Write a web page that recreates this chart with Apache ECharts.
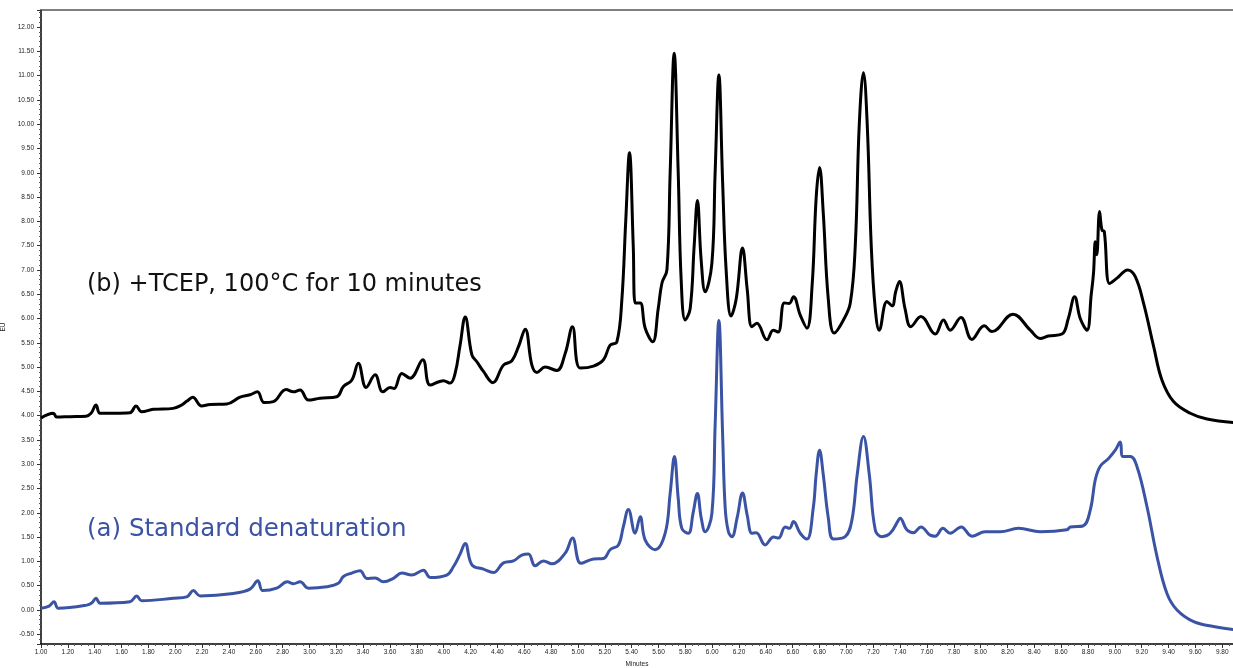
<!DOCTYPE html>
<html>
<head>
<meta charset="utf-8">
<script src="https://cdn.jsdelivr.net/npm/echarts@6/dist/echarts.min.js"></script>
<style>html,body{margin:0;padding:0;background:#fff;}#c{width:1233px;height:668px;}</style>
</head>
<body>
<div id="c"></div>
<script>
// (b) +TCEP, 100°C for 10 minutes  (black trace)
const timeB = [1.000,1.092,1.117,1.216,1.335,1.373,1.410,1.440,1.551,1.663,1.708,1.750,1.837,1.984,2.036,2.088,2.130,2.197,2.259,2.384,2.483,2.557,2.612,2.662,2.731,2.826,2.880,2.930,2.992,3.079,3.203,3.253,3.315,3.364,3.422,3.489,3.546,3.601,3.631,3.688,3.750,3.844,3.899,3.998,4.048,4.085,4.122,4.160,4.210,4.247,4.296,4.366,4.445,4.508,4.557,4.607,4.657,4.694,4.756,4.843,4.905,4.959,5.016,5.116,5.190,5.240,5.290,5.327,5.356,5.384,5.412,5.427,5.464,5.501,5.557,5.598,5.626,5.663,5.687,5.717,5.747,5.769,5.799,5.836,5.866,5.890,5.918,5.948,5.998,6.022,6.050,6.078,6.104,6.141,6.179,6.226,6.261,6.296,6.333,6.408,6.455,6.492,6.537,6.574,6.606,6.656,6.706,6.745,6.775,6.800,6.827,6.865,6.909,6.976,7.029,7.066,7.096,7.127,7.155,7.185,7.215,7.245,7.302,7.341,7.367,7.395,7.437,7.480,7.555,7.662,7.723,7.773,7.853,7.935,8.027,8.084,8.241,8.370,8.444,8.504,8.606,8.653,8.700,8.742,8.792,8.824,8.841,8.854,8.865,8.886,8.904,8.921,8.961,9.016,9.095,9.152,9.214,9.289,9.351,9.437,9.562,9.686,9.882];
const signalB = [3.95,4.05,3.97,3.98,3.99,4.05,4.22,4.05,4.05,4.06,4.20,4.08,4.13,4.15,4.20,4.30,4.38,4.20,4.23,4.24,4.38,4.43,4.49,4.27,4.29,4.54,4.49,4.53,4.32,4.36,4.39,4.60,4.73,5.08,4.58,4.84,4.49,4.58,4.56,4.87,4.77,5.15,4.63,4.72,4.67,4.87,5.45,6.03,5.25,5.11,4.91,4.68,5.04,5.13,5.42,5.78,5.04,4.89,5.00,4.93,5.28,5.83,4.98,5.02,5.15,5.45,5.52,6.38,8.00,9.41,7.50,6.32,6.32,5.80,5.52,6.20,6.73,7.00,9.00,11.46,9.00,6.80,5.97,6.20,7.50,8.43,7.20,6.55,7.14,9.00,11.01,8.80,7.00,6.05,6.40,7.45,6.60,5.83,5.90,5.56,5.76,5.72,6.32,6.31,6.45,6.07,5.80,6.70,8.50,9.11,8.20,6.40,5.70,5.96,6.32,7.50,10.00,11.06,10.00,7.50,6.20,5.76,6.35,6.26,6.55,6.76,6.20,5.83,6.04,5.68,5.97,5.76,6.02,5.57,5.85,5.73,6.09,5.76,5.59,5.64,5.68,6.00,6.45,6.00,5.76,6.50,6.94,7.58,7.31,8.20,7.82,7.79,6.72,6.83,7.00,6.86,6.31,5.42,4.73,4.29,4.05,3.93,3.86];

// (a) Standard denaturation  (blue trace)
const timeA = [1.000,1.060,1.097,1.129,1.341,1.380,1.410,1.440,1.663,1.713,1.750,1.986,2.086,2.135,2.185,2.433,2.557,2.615,2.652,2.756,2.835,2.880,2.930,2.992,3.129,3.215,3.253,3.315,3.377,3.427,3.489,3.551,3.625,3.688,3.762,3.849,3.899,4.023,4.072,4.122,4.160,4.210,4.296,4.370,4.445,4.519,4.582,4.631,4.681,4.743,4.806,4.905,4.959,5.022,5.116,5.190,5.240,5.302,5.337,5.376,5.426,5.464,5.501,5.575,5.650,5.687,5.719,5.747,5.774,5.823,5.858,5.890,5.918,5.948,5.998,6.022,6.050,6.078,6.097,6.121,6.147,6.186,6.226,6.261,6.296,6.328,6.395,6.457,6.494,6.544,6.576,6.606,6.656,6.706,6.753,6.775,6.800,6.827,6.865,6.904,6.991,7.041,7.081,7.127,7.170,7.215,7.264,7.326,7.388,7.400,7.450,7.500,7.555,7.624,7.662,7.719,7.773,7.855,7.935,8.034,8.146,8.282,8.444,8.643,8.668,8.762,8.817,8.854,8.891,8.953,9.003,9.040,9.060,9.115,9.165,9.239,9.314,9.388,9.463,9.587,9.735,9.882];
const signalA = [0.035,0.08,0.17,0.035,0.10,0.15,0.24,0.14,0.17,0.29,0.19,0.24,0.27,0.40,0.29,0.34,0.43,0.60,0.40,0.45,0.58,0.54,0.58,0.45,0.48,0.55,0.69,0.76,0.81,0.65,0.66,0.58,0.65,0.76,0.72,0.82,0.67,0.72,0.89,1.15,1.37,0.93,0.84,0.77,0.97,1.01,1.13,1.15,0.91,1.01,0.95,1.17,1.48,0.96,1.05,1.06,1.24,1.34,1.70,2.07,1.58,1.92,1.44,1.24,1.58,2.40,3.16,2.30,1.68,1.58,2.00,2.40,1.90,1.61,1.99,3.80,5.96,3.60,2.10,1.61,1.51,1.90,2.41,1.95,1.58,1.59,1.34,1.50,1.48,1.71,1.68,1.82,1.58,1.46,2.10,2.80,3.29,2.80,1.90,1.46,1.51,1.85,2.80,3.57,2.80,1.65,1.51,1.58,1.85,1.89,1.65,1.59,1.71,1.54,1.52,1.68,1.58,1.71,1.52,1.61,1.61,1.68,1.61,1.65,1.71,1.73,2.06,2.68,2.96,3.12,3.29,3.46,3.16,3.16,2.95,2.13,1.10,0.34,0.00,-0.24,-0.34,-0.40];

const labelB = '(b) +TCEP, 100°C for 10 minutes';
const labelA = '(a) Standard denaturation';

const dataB = timeB.map((t, i) => [t, signalB[i]]);
const dataA = timeA.map((t, i) => [t, signalA[i]]);

const chart = echarts.init(document.getElementById('c'), null, {renderer: 'canvas'});
const tickFont = {fontFamily: 'Liberation Sans', fontSize: 6.5, color: '#222'};
chart.setOption({
  animation: false,
  backgroundColor: '#fff',
  grid: {left: 41, right: 0, top: 10, bottom: 24, containLabel: false, outerBoundsMode: 'none'},
  xAxis: [{
    type: 'value', min: 1, max: 9.88, interval: 0.2,
    name: 'Minutes', nameLocation: 'middle', nameGap: 17,
    nameTextStyle: {fontFamily: 'Liberation Sans', fontSize: 6.5, color: '#222'},
    axisLine: {show: true, onZero: false, lineStyle: {color: '#000', width: 1.5}},
    axisTick: {show: true, inside: false, length: 4, lineStyle: {color: '#333'}},
    minorTick: {show: true, splitNumber: 4, length: 2, lineStyle: {color: '#555'}},
    axisLabel: Object.assign({margin: 5, showMaxLabel: false, formatter: v => v.toFixed(2)}, tickFont),
    splitLine: {show: false}
  }, {
    type: 'value', min: 1, max: 9.88, position: 'top',
    axisLine: {show: true, onZero: false, lineStyle: {color: '#555', width: 1.5}},
    axisTick: {show: false}, axisLabel: {show: false}, splitLine: {show: false}
  }],
  yAxis: {
    type: 'value', min: -0.7, max: 12.35, splitNumber: 26, minInterval: 0.5, maxInterval: 0.5,
    name: 'EU', nameLocation: 'middle', nameGap: 31, nameRotate: 90,
    nameTextStyle: {fontFamily: 'Liberation Sans', fontSize: 6.5, color: '#222'},
    axisLine: {show: true, onZero: false, lineStyle: {color: '#000', width: 1.5}},
    axisTick: {show: true, inside: false, length: 4, lineStyle: {color: '#333'}},
    minorTick: {show: true, splitNumber: 5, length: 2, lineStyle: {color: '#555'}},
    axisLabel: Object.assign({margin: 7, showMinLabel: false, showMaxLabel: false, formatter: v => v.toFixed(2)}, tickFont),
    splitLine: {show: false}
  },
  series: [{
    type: 'line', data: dataA, showSymbol: false, smooth: 0.4,
    lineStyle: {color: '#3a53a5', width: 3}, itemStyle: {color: '#3a53a5'}, z: 2
  }, {
    type: 'line', data: dataB, showSymbol: false, smooth: 0.4,
    lineStyle: {color: '#000', width: 3}, itemStyle: {color: '#000'}, z: 3
  }],
  graphic: [{
    type: 'text', x: 87, y: 285,
    style: {text: labelB, fontFamily: 'DejaVu Sans', fontSize: 24, fill: '#111', verticalAlign: 'middle'}
  }, {
    type: 'text', x: 87, y: 530,
    style: {text: labelA, fontFamily: 'DejaVu Sans', fontSize: 24.5, fill: '#3a53a5', verticalAlign: 'middle'}
  }]
});
</script>
</body>
</html>
